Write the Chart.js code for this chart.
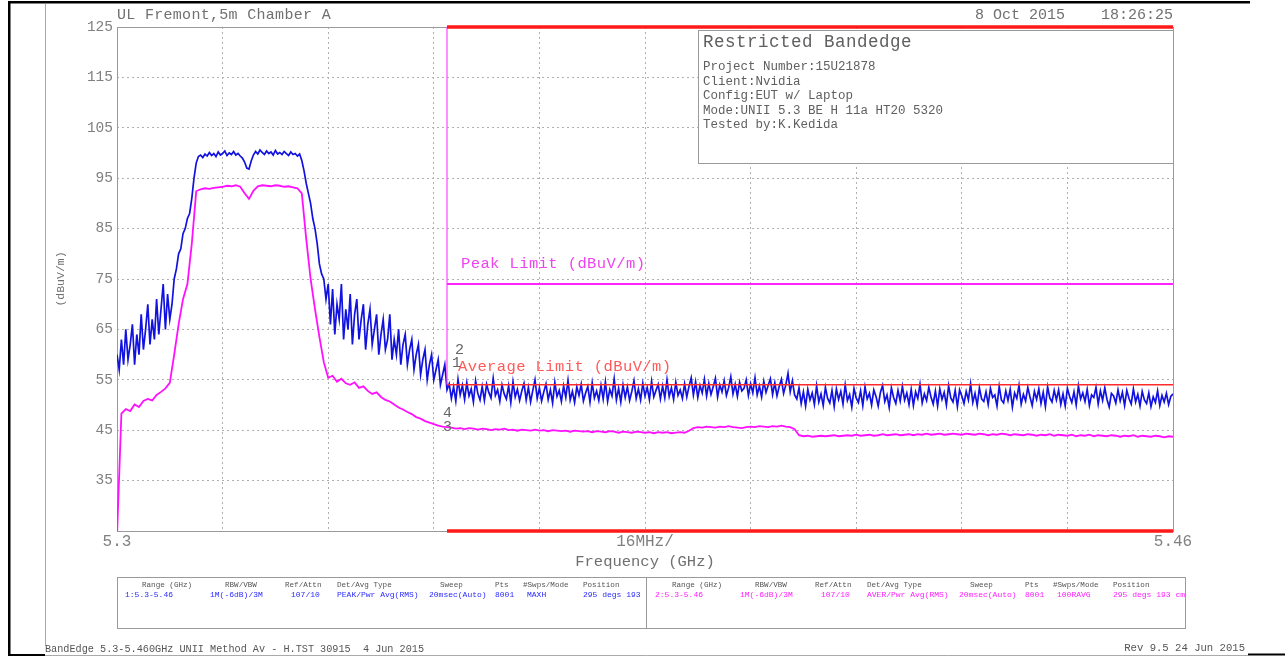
<!DOCTYPE html>
<html><head><meta charset="utf-8">
<script src="https://cdn.jsdelivr.net/npm/chart.js@4.4.0/dist/chart.umd.min.js"></script>
<style>html,body{margin:0;padding:0;background:#fff;}canvas{display:block}</style>
</head><body>
<canvas id="c" width="1285" height="656"></canvas>
<script>
// ---------- data ----------
const sweepStartGHz = 5.3, sweepStopGHz = 5.46;
const yMin = 25, yMax = 125, yStep = 10;
const yTickLabels = ['', '35', '45', '55', '65', '75', '85', '95', '105', '115', '125'];
const xTickLabels = ['5.3', '', '', '', '', '16MHz/', '', '', '', '', '5.46'];
const restrictedStartGHz = 5.35;
const peakLimit = 74;
const avgLimit = 54;

// Trace 1: peak (MAXH)
const peakTrace = [
  60,57,63,58,65,59,62,66,58,64,60,68,61,65,70,62,67,63,71,64,69,74,65,72,67,
  70,75,77,80,81,84,85,87,88,91,95,98,99.3,
  99.6,99.1,99.8,99.4,100.1,99.5,99.9,99.3,100.2,99.6,99.9,100.4,99.5,100.0,99.7,100.3,99.6,99.9,99.4,99.0,
  98.2,97.0,96.8,98.4,
  99.6,100.3,99.8,100.6,100.1,99.7,100.4,99.9,100.2,99.6,100.5,99.8,100.1,99.7,100.3,99.9,99.5,100.2,99.7,99.9,99.4,99.8,
  98.5,96.5,94,92,90,87,85,82,78,76,75,71,74,
  66,73,64,70,67,74,63,69,65,72,
  62,68,71,63,67,70,61,66,69,62,
  65,68,60,64,67,61,63,68,59,63,
  60,65,58,62,64,58,61,63,57,60,
  62,56,59,61,55,58,60,55,57,59,
  54,56,58,53,
  54.2,51.3,53.6,50.8,55.1,52.0,53.9,51.1,54.4,51.8,
  53.2,50.6,54.8,52.3,51.0,53.7,50.9,54.1,52.5,51.4,
  55.3,51.9,53.0,50.7,54.0,52.2,51.2,53.8,50.5,54.6,
  51.6,53.1,50.9,52.8,54.3,51.0,53.5,50.6,52.9,55.0,
  51.3,53.4,50.8,52.6,54.2,51.1,53.0,50.4,54.5,51.7,
  52.9,50.7,53.8,51.5,54.9,51.0,52.7,50.5,53.6,51.9,
  54.1,50.8,52.4,53.7,50.6,54.4,51.4,52.8,50.9,53.9,
  51.2,54.6,50.7,53.1,51.8,55.2,51.0,53.3,50.6,54.0,
  51.5,53.6,50.9,52.7,54.8,51.3,53.2,51.0,54.3,51.8,
  53.5,51.1,54.7,51.6,52.9,54.1,51.2,53.8,51.4,55.0,
  51.7,53.4,51.1,54.5,51.9,53.0,51.3,54.2,51.6,53.7,55.4,
  52.0,54.6,51.5,53.9,52.4,55.1,51.8,54.3,52.1,53.6,
  55.3,51.6,54.0,52.6,54.8,51.9,53.4,55.6,52.2,54.1,
  51.7,54.5,52.8,53.3,55.0,51.9,54.2,52.4,55.4,52.0,
  53.8,51.6,54.7,52.5,53.9,55.2,52.1,54.4,51.8,53.7,
  55.1,52.3,54.0,56.3,52.6,54.8,52.0,
  51.2,53.4,50.3,52.6,49.8,53.1,51.0,52.4,50.1,53.8,
  50.6,52.2,49.9,53.5,51.3,50.4,52.9,49.7,53.2,51.1,
  52.7,50.2,54.0,50.9,52.1,49.6,53.3,51.4,50.5,52.8,
  49.9,53.6,51.2,52.3,50.0,53.0,51.7,49.8,52.5,53.9,
  50.7,52.0,49.5,53.4,51.5,50.3,52.9,50.8,53.7,51.0,
  52.4,50.1,53.1,49.9,52.6,51.3,54.1,50.4,52.2,50.9,
  53.5,51.6,50.2,52.8,49.8,53.2,51.1,52.5,50.0,53.8,
  51.4,50.6,52.9,49.7,53.0,51.8,50.3,52.7,51.0,54.2,
  50.5,52.3,49.9,53.4,51.2,50.7,52.6,50.1,53.3,51.5,
  52.0,49.8,53.7,51.0,50.4,52.8,50.9,53.1,49.6,52.4,
  51.3,53.9,50.2,52.1,50.8,53.5,51.6,49.9,52.7,51.1,
  53.2,50.3,52.5,49.7,53.6,51.4,50.6,52.9,51.0,53.0,
  50.1,52.2,49.8,53.3,51.7,50.5,52.6,50.0,53.8,51.2,
  52.4,50.7,53.1,49.9,52.0,51.5,53.5,50.2,52.8,50.9,
  53.4,51.1,49.6,52.3,51.8,50.4,53.0,50.8,52.5,49.9,
  52.9,51.3,50.2,53.2,50.6,52.1,49.8,52.7,51.0,50.3,
  52.4,49.7,51.6,50.5,52.8,49.9,51.9,50.6,52.3,50.1,51.7,52.2
];

// Trace 2: average (100RAVG)
const avgTrace = [
  24,
  48.3,49.2,48.8,50.1,49.6,50.8,51.2,50.9,52.0,52.6,53.3,54.4,
  60,66,71,74,82,92.4,
  92.8,93.0,92.9,93.1,93.2,93.3,93.5,93.4,93.6,93.3,
  92.0,90.9,92.5,
  93.4,93.6,93.5,93.4,93.6,93.5,93.3,93.4,93.2,93.0,
  92,83,75,69,63.5,58.5,55.4,
  55.8,54.6,55.2,54.3,54.0,54.5,53.4,53.7,52.8,52.2,52.5,51.6,51.0,50.7,50.1,49.5,49.1,48.6,48.2,47.6,47.3,46.8,46.5,46.2,45.9,45.7,45.6,
  45.5,45.3,45.4,45.2,45.4,45.3,45.1,45.3,45.2,45.0,
  45.2,45.1,45.3,45.0,45.1,44.9,45.1,45.0,44.9,45.1,
  44.9,45.0,44.8,45.0,44.9,44.8,44.9,44.7,44.9,44.8,
  44.7,44.8,44.6,44.8,44.7,44.6,44.8,44.7,44.5,44.7,
  44.6,44.5,44.7,44.6,44.5,44.6,44.4,44.6,44.5,44.6,44.4,44.5,44.6,44.5,44.9,
  45.4,45.6,45.5,45.7,45.6,45.5,45.7,45.6,45.8,45.6,
  45.5,45.4,45.6,45.7,45.6,45.8,45.7,45.6,45.8,45.7,45.9,45.7,45.6,45.2,
  44.0,43.8,43.9,43.7,43.8,43.9,43.8,43.9,44.0,43.8,
  43.9,44.0,43.9,44.1,43.9,44.0,44.1,43.9,44.0,44.2,
  44.0,44.1,44.2,44.0,44.1,44.2,44.0,44.2,44.1,44.3,
  44.1,44.2,44.3,44.1,44.2,44.3,44.2,44.1,44.3,44.2,
  44.1,44.3,44.2,44.0,44.2,44.1,44.3,44.2,44.0,44.2,
  44.1,44.0,44.2,44.1,43.9,44.1,44.0,44.2,43.9,44.1,
  44.0,43.9,44.1,43.8,44.0,43.9,44.1,43.8,44.0,43.9,
  43.8,44.0,43.9,43.7,43.9,43.8,44.0,43.7,43.9,43.8,43.7,43.9,43.8,43.6,43.8,43.7
];

const headerLeft = 'UL Fremont,5m Chamber A';
const headerDate = '8 Oct 2015';
const headerTime = '18:26:25';
const infoTitle = 'Restricted Bandedge';
const infoLines = ['Project Number:15U21878', 'Client:Nvidia', 'Config:EUT w/ Laptop', 'Mode:UNII 5.3 BE H 11a HT20 5320', 'Tested by:K.Kedida'];
const peakLimitLabel = 'Peak Limit (dBuV/m)';
const avgLimitLabel = 'Average Limit (dBuV/m)';
const markerLabels = ['2', '1', '4', '3'];
const xTitle = 'Frequency (GHz)';
const yTitle = '(dBuV/m)';
const tableHeaders = ['Range (GHz)', 'RBW/VBW', 'Ref/Attn', 'Det/Avg Type', 'Sweep', 'Pts', '#Swps/Mode', 'Position'];
const trace1Settings = ['1:5.3-5.46', '1M(-6dB)/3M', '107/10', 'PEAK/Pwr Avg(RMS)', '20msec(Auto)', '8001', 'MAXH', '295 degs 193'];
const trace2Settings = ['2:5.3-5.46', '1M(-6dB)/3M', '107/10', 'AVER/Pwr Avg(RMS)', '20msec(Auto)', '8001', '100RAVG', '295 degs 193 cm'];
const footerLeft = 'BandEdge 5.3-5.460GHz UNII Method Av - H.TST 30915  4 Jun 2015';
const footerRight = 'Rev 9.5 24 Jun 2015';

// ---------- build ----------
function sweep(values) {
  const n = values.length;
  return values.map((v, i) => ({ x: sweepStartGHz + i * (sweepStopGHz - sweepStartGHz) / (n - 1), y: v }));
}
const MONO = "'Liberation Mono','DejaVu Sans Mono',monospace";
const GRAY = '#707070';

function txt(ctx, s, x, y, size, color, align, ls, font) {
  ctx.font = size + 'px ' + (font || MONO);
  ctx.fillStyle = color;
  ctx.textAlign = align || 'left';
  ctx.textBaseline = 'middle';
  ctx.letterSpacing = (ls || 0) + 'px';
  ctx.fillText(s, x, y);
}

const decor = {
  id: 'decor',
  beforeDatasetsDraw(chart) {
    const { ctx, chartArea: a } = chart;
    ctx.save();
    ctx.strokeStyle = '#9a9a9a';
    ctx.lineWidth = 1;
    ctx.strokeRect(a.left + 0.5, a.top + 0.5, a.right - a.left, a.bottom - a.top);
    ctx.restore();
  },
  afterDraw(chart) {
    const { ctx } = chart;
    ctx.save();
    // page frame
    ctx.fillStyle = '#000';
    ctx.fillRect(8, 1, 1242, 2.5);
    ctx.fillRect(8, 1, 2.5, 655);
    ctx.fillRect(8, 654, 37, 2);
    ctx.fillRect(1248, 653.5, 37, 2);
    ctx.strokeStyle = '#aaa'; ctx.lineWidth = 1;
    ctx.beginPath(); ctx.moveTo(45.5, 4); ctx.lineTo(45.5, 646); ctx.stroke();
    ctx.beginPath(); ctx.moveTo(45, 655.5); ctx.lineTo(1248, 655.5); ctx.stroke();

    // header
    txt(ctx, headerLeft, 117, 15, 15, GRAY, 'left', 0.3);
    txt(ctx, headerDate, 975, 15, 15, GRAY, 'left', 0);
    txt(ctx, headerTime, 1173, 15, 15, GRAY, 'right', 0);

    // info box
    ctx.fillStyle = '#fff';
    ctx.fillRect(698, 30, 475, 133);
    ctx.strokeStyle = '#9a9a9a'; ctx.lineWidth = 1;
    ctx.strokeRect(698.5, 30.5, 475, 133);
    txt(ctx, infoTitle, 703, 42, 17.5, '#606060', 'left', 0.5);
    infoLines.forEach((s, i) => txt(ctx, s, 703, 67 + i * 14.5, 12.5, '#606060', 'left', 0));

    // limit labels and markers
    txt(ctx, peakLimitLabel, 461, 264, 15.5, '#ee44ee', 'left', 0.4);
    txt(ctx, avgLimitLabel, 458, 367, 15.5, '#ff5a5a', 'left', 0.4);
    txt(ctx, markerLabels[0], 455, 350, 15, '#666', 'left');
    txt(ctx, markerLabels[1], 452, 363, 15, '#666', 'left');
    txt(ctx, markerLabels[2], 443, 413, 15, '#666', 'left');
    txt(ctx, markerLabels[3], 443, 427, 15, '#666', 'left');

    // settings table
    ctx.strokeStyle = '#9a9a9a'; ctx.lineWidth = 1;
    ctx.strokeRect(117.5, 577.5, 1068, 51);
    ctx.beginPath(); ctx.moveTo(646.5, 578); ctx.lineTo(646.5, 628); ctx.stroke();
    const hdrOff = [25, 108, 168, 220, 323, 378, 406, 466];
    const valOff = [8, 93, 174, 220, 312, 378, 410, 466];
    [[117, trace1Settings, '#2a2aff'], [647, trace2Settings, '#ff22ff']].forEach(([x0, vals, col]) => {
      tableHeaders.forEach((s, i) => txt(ctx, s, x0 + hdrOff[i], 585, 7.6, '#555', 'left', 0));
      vals.forEach((s, i) => txt(ctx, s, x0 + valOff[i], 595, 8, col, 'left', 0));
    });

    // footer
    txt(ctx, footerLeft, 45, 649, 10.2, '#555', 'left', 0);
    txt(ctx, footerRight, 1245, 648, 10.6, '#555', 'right', 0);
    ctx.restore();
  }
};

const bandTop = [{ x: restrictedStartGHz, y: yMax }, { x: sweepStopGHz, y: yMax }];
const bandBottom = [{ x: restrictedStartGHz, y: yMin }, { x: sweepStopGHz, y: yMin }];
const bandEdge = [{ x: restrictedStartGHz, y: yMax }, { x: restrictedStartGHz, y: avgLimit }];
const peakLine = [{ x: restrictedStartGHz, y: peakLimit }, { x: sweepStopGHz, y: peakLimit }];
const avgLine = [{ x: restrictedStartGHz, y: avgLimit }, { x: sweepStopGHz, y: avgLimit }];

const line = (data, color, width, clip) => ({ data, borderColor: color, borderWidth: width, pointRadius: 0, tension: 0, fill: false, clip: clip });

new Chart(document.getElementById('c'), {
  type: 'line',
  data: {
    datasets: [
      line(bandTop, '#ff1a1a', 3.5, false),
      line(bandBottom, '#ff1a1a', 3.5, false),
      line(avgLine, '#ff2a2a', 1.5, false),
      line(peakLine, '#ff22ff', 2, false),
      line(bandEdge, '#ff44ff', 1.2, false),
      line(sweep(peakTrace), '#1212e0', 1.7, 0),
      line(sweep(avgTrace), '#ff10ff', 1.8, 0)
    ]
  },
  options: {
    responsive: false,
    animation: false,
    devicePixelRatio: 1,
    layout: { padding: { left: 0, top: 27, right: 112, bottom: 85 } },
    plugins: { legend: { display: false }, tooltip: { enabled: false } },
    scales: {
      x: {
        type: 'linear', min: sweepStartGHz, max: sweepStopGHz,
        afterFit: s => { s.height = 40; },
        afterBuildTicks: s => {
          s.ticks = xTickLabels.map((_, j) => ({ value: sweepStartGHz + j * (sweepStopGHz - sweepStartGHz) / (xTickLabels.length - 1) }));
        },
        ticks: { autoSkip: false, maxRotation: 0, minRotation: 0, padding: 1, color: '#808080',
          font: { family: MONO, size: 16 }, callback: (v, i) => xTickLabels[i] },
        grid: { color: '#b0b0b0', lineWidth: 1, drawTicks: false },
        border: { display: false, dash: [2, 3] },
        title: { display: true, text: xTitle, color: '#707070', font: { family: MONO, size: 15.5 }, padding: { top: 0, bottom: 0 } }
      },
      y: {
        min: yMin, max: yMax,
        afterFit: s => { s.width = 117; },
        ticks: { stepSize: yStep, padding: 4, color: '#808080', font: { family: MONO, size: 14.5 },
          callback: (v, i) => yTickLabels[i] },
        grid: { color: '#b0b0b0', lineWidth: 1, drawTicks: false },
        border: { display: false, dash: [2, 3] },
        title: { display: true, text: yTitle, color: '#707070', font: { family: MONO, size: 11.5 }, padding: { top: 54, bottom: 0 } }
      }
    }
  },
  plugins: [decor]
});
</script>
</body></html>
